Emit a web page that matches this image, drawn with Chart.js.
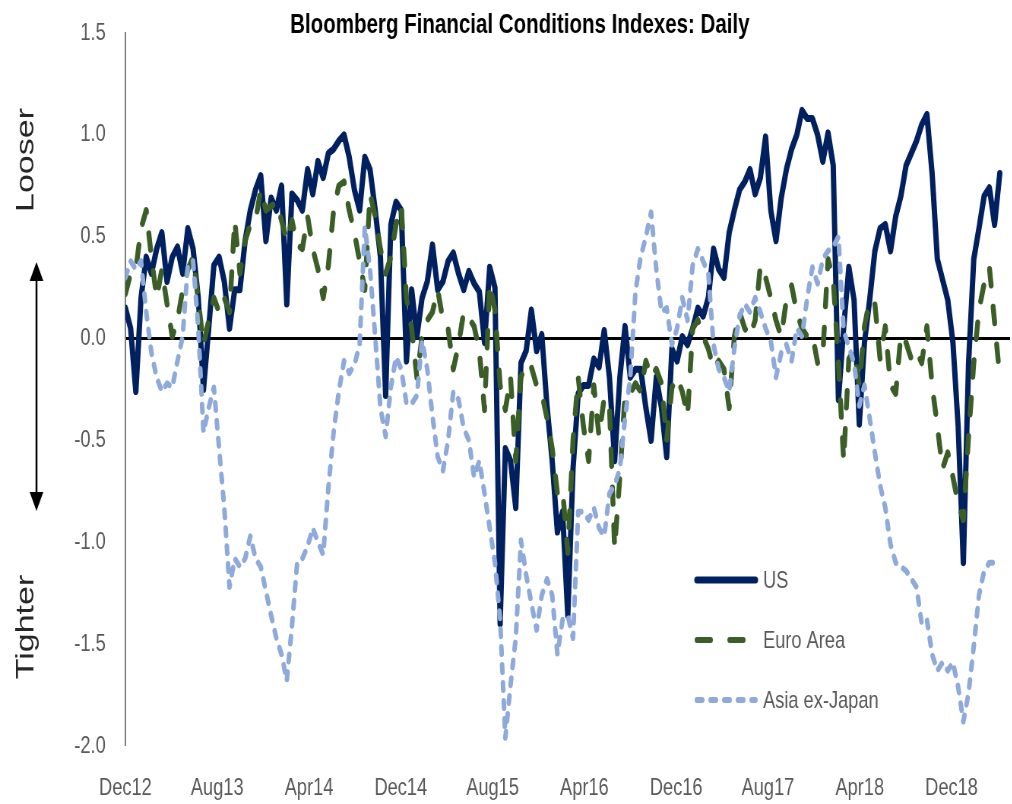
<!DOCTYPE html>
<html>
<head>
<meta charset="utf-8">
<script src="https://cdn.jsdelivr.net/npm/chart.js@4.4.1/dist/chart.umd.min.js"></script>
<style>
  body { margin: 0; overflow: hidden; background: #fff; }
  #frame { width: 1012px; height: 804px; overflow: hidden; position: relative; }
  /* the source picture is squeezed sideways, so draw wide and squeeze */
  #squeeze { width: 1332px; height: 804px; transform: scaleX(0.76); transform-origin: 0 0; }
</style>
</head>
<body>
<div id="frame"><div id="squeeze"><canvas id="c" width="1332" height="804"></canvas></div></div>
<script>
// readings roughly every two weeks, Dec 2012 -> Apr 2019 (x in months since Dec12)
const obsStep = 0.4536

const US = [
  0.15, 0.05, -0.26, 0.2, 0.4, 0.32, 0.44, 0.52, 0.28, 0.4,
  0.45, 0.32, 0.54, 0.44, 0.2, -0.25, 0.05, 0.36, 0.4, 0.28,
  0.05, 0.24, 0.24, 0.48, 0.63, 0.73, 0.8, 0.48, 0.69, 0.63,
  0.75, 0.17, 0.71, 0.68, 0.63, 0.83, 0.71, 0.87, 0.79, 0.91,
  0.93, 0.97, 1.0, 0.89, 0.73, 0.63, 0.89, 0.83, 0.63, 0.4,
  -0.28, 0.56, 0.67, 0.63, -0.11, 0.24, 0.01, 0.2, 0.28, 0.46,
  0.24, 0.28, 0.38, 0.42, 0.32, 0.24, 0.33, 0.27, 0.23, -0.02,
  0.35, 0.25, -1.4, -0.54, -0.6, -0.83, -0.12, -0.06, 0.14, -0.06,
  0.02, -0.33, -0.6, -0.95, -0.85, -1.36, -0.64, -0.27, -0.23, -0.23,
  -0.1, -0.14, 0.04, -0.19, -0.6, -0.19, 0.06, -0.19, -0.15, -0.15,
  -0.34, -0.5, -0.19, -0.34, -0.58, -0.05, -0.11, 0.01, -0.03, 0.05,
  0.15, 0.11, 0.2, 0.44, 0.34, 0.3, 0.52, 0.63, 0.73, 0.77,
  0.83, 0.71, 0.79, 0.99, 0.63, 0.48, 0.69, 0.83, 0.93, 1.0,
  1.12, 1.08, 1.08, 1.0, 0.87, 1.01, 0.85, -0.3, 0.05, 0.35,
  0.19, -0.42, -0.02, 0.19, 0.43, 0.54, 0.56, 0.43, 0.6, 0.7,
  0.85, 0.91, 0.97, 1.05, 1.1, 0.81, 0.39, 0.29, 0.19, -0.02,
  -0.43, -1.1, -0.12, 0.39, 0.54, 0.7, 0.74, 0.56, 0.81
]

const EURO = [
  0.22, 0.32, 0.34, 0.54, 0.63, 0.4, 0.2, 0.34, 0.17, 0.01,
  0.09, 0.24, 0.34, 0.4, 0.19, -0.03, 0.09, 0.2, 0.13, 0.2,
  0.13, 0.58, 0.32, 0.48, 0.56, 0.58, 0.73, 0.63, 0.65, 0.67,
  0.58, 0.48, 0.58, 0.46, 0.44, 0.6, 0.44, 0.34, 0.2, 0.36,
  0.63, 0.75, 0.77, 0.63, 0.52, 0.38, 0.24, 0.71, 0.6, 0.44,
  0.32, 0.4, 0.56, 0.65, 0.2, 0.05, -0.19, 0.01, 0.09, 0.13,
  0.24, 0.09, 0.05, -0.15, -0.03, 0.13, 0.1, 0.06, -0.06, -0.35,
  0.27, 0.14, -0.23, -0.35, -0.19, -0.6, -0.19, -0.12, -0.14, -0.23,
  -0.27, -0.39, -0.54, -0.76, -0.74, -1.05, -0.5, -0.19, -0.43, -0.6,
  -0.23, -0.48, -0.29, -0.33, -1.03, -0.68, -0.27, -0.27, -0.22, -0.26,
  -0.11, -0.19, -0.15, -0.22, -0.5, -0.24, -0.19, -0.26, -0.38, 0.05,
  0.09, 0.01, -0.05, -0.15, -0.11, -0.15, -0.34, 0.01, 0.13, 0.05,
  0.01, 0.09, 0.36, 0.3, 0.2, 0.09, 0.01, 0.19, 0.26, 0.13,
  0.05, 0.01, 0.02, -0.12, -0.08, 0.39, 0.29, -0.12, -0.6, -0.1,
  -0.06, -0.23, 0.06, 0.19, 0.17, -0.1, 0.06, -0.23, -0.27, 0.02,
  -0.02, -0.1, -0.06, -0.12, 0.06, -0.23, -0.43, -0.64, -0.56, -0.68,
  -0.81, -0.89, -0.48, -0.12, 0.14, 0.27, 0.35, 0.08, -0.19
]

const ASIA = [
  0.3, 0.38, 0.34, 0.38, 0.13, -0.07, -0.19, -0.26, -0.22, -0.24,
  -0.11, 0.01, 0.36, 0.38, 0.05, -0.46, -0.34, -0.24, -0.54, -0.83,
  -1.22, -1.08, -1.12, -1.08, -0.97, -1.08, -1.12, -1.24, -1.36, -1.47,
  -1.55, -1.68, -1.41, -1.1, -1.08, -1.02, -0.93, -1.0, -1.06, -0.73,
  -0.46, -0.26, -0.11, -0.17, -0.13, -0.03, 0.55, 0.34, 0.01, -0.34,
  -0.48, -0.24, -0.09, -0.15, -0.32, -0.32, -0.28, -0.01, -0.15, -0.38,
  -0.58, -0.65, -0.5, -0.26, -0.3, -0.44, -0.5, -0.68, -0.6, -0.76,
  -0.93, -1.1, -1.38, -1.96, -1.7, -1.47, -0.99, -1.16, -1.3, -1.43,
  -1.26, -1.18, -1.26, -1.55, -1.38, -1.36, -1.47, -0.85, -0.85, -0.89,
  -0.83, -0.93, -0.97, -0.76, -0.72, -0.64, -0.39, -0.19, 0.23, 0.4,
  0.5, 0.62, 0.34, 0.13, 0.15, -0.03, 0.05, 0.2, 0.09, 0.36,
  0.44, 0.38, 0.32, -0.03, -0.15, -0.19, -0.26, -0.05, 0.11, 0.17,
  0.13, 0.2, 0.13, 0.05, -0.01, -0.19, -0.07, -0.03, -0.11, 0.05,
  0.01, 0.2, 0.35, 0.27, 0.39, 0.43, 0.45, 0.5, 0.04, -0.04,
  -0.12, -0.33, -0.23, -0.39, -0.56, -0.72, -0.83, -1.01, -1.1, -1.12,
  -1.14, -1.18, -1.22, -1.4, -1.38, -1.55, -1.63, -1.59, -1.63, -1.59,
  -1.71, -1.88, -1.74, -1.51, -1.26, -1.14, -1.1, -1.1, -1.1
]

const tickMonths = [0, 8, 16, 24, 32, 40, 48, 56, 64, 72]
const tickLabels = ['Dec12', 'Aug13', 'Apr14', 'Dec14', 'Aug15', 'Apr16', 'Dec16', 'Aug17', 'Apr18', 'Dec18']

const months = US.map((_, i) => +(i * obsStep).toFixed(3))

const navy = '#00205f'
const green = '#3b5e27'
const lightBlue = '#8eaadb'
const grey = '#595959'

Chart.defaults.font.family = "'Liberation Sans', Arial, sans-serif"

// title, side labels, arrow and legend drawn on top
const decor = {
    id: 'decor',
    afterDraw(chart) {
        const ctx = chart.ctx
        ctx.save()
        ctx.fillStyle = '#000'
        ctx.font = "bold 27px 'Liberation Sans', Arial, sans-serif"
        ctx.textAlign = 'center'
        ctx.textBaseline = 'alphabetic'
        ctx.fillText('Bloomberg Financial Conditions Indexes: Daily', 684, 33)

        ctx.fillStyle = '#262626'
        ctx.font = "34px 'Liberation Sans', Arial, sans-serif"
        ;[['Looser', 160], ['Tighter', 627]].forEach(([t, y]) => {
            ctx.save()
            ctx.translate(44, y)
            ctx.rotate(-Math.PI / 2)
            ctx.fillText(t, 0, 0)
            ctx.restore()
        })

        // double arrow
        ctx.strokeStyle = '#000'
        ctx.fillStyle = '#000'
        ctx.lineWidth = 2.5
        ctx.beginPath()
        ctx.moveTo(48, 275)
        ctx.lineTo(48, 498)
        ctx.stroke()
        ctx.beginPath()
        ctx.moveTo(48, 262); ctx.lineTo(57, 281); ctx.lineTo(39, 281); ctx.closePath()
        ctx.fill()
        ctx.beginPath()
        ctx.moveTo(48, 511); ctx.lineTo(57, 492); ctx.lineTo(39, 492); ctx.closePath()
        ctx.fill()

        // legend
        const rows = [
            ['US', navy, 7, [], 580],
            ['Euro Area', green, 6, [18, 25], 640],
            ['Asia ex-Japan', lightBlue, 6, [7, 11], 700]
        ]
        rows.forEach(([name, col, w, dash, y]) => {
            ctx.strokeStyle = col
            ctx.lineWidth = w
            ctx.lineCap = 'round'
            ctx.setLineDash(dash)
            ctx.beginPath()
            ctx.moveTo(917, y)
            ctx.lineTo(994, y)
            ctx.stroke()
            ctx.setLineDash([])
            ctx.fillStyle = grey
            ctx.font = "24px 'Liberation Sans', Arial, sans-serif"
            ctx.textAlign = 'left'
            ctx.textBaseline = 'middle'
            ctx.fillText(name, 1004, y + 1)
        })
        ctx.restore()
    }
}

const lineSet = (label, data, color, width, dash, order) => ({
    label,
    data,
    borderColor: color,
    backgroundColor: color,
    borderWidth: width,
    borderDash: dash,
    borderCapStyle: 'round',
    borderJoinStyle: 'round',
    pointRadius: 0,
    tension: 0,
    fill: false,
    order
})

new Chart(document.getElementById('c'), {
    type: 'line',
    data: {
        labels: months,
        datasets: [
            lineSet('US', US, navy, 7, [], 3),
            lineSet('Euro Area', EURO, green, 6.5, [16, 22], 2),
            lineSet('Asia ex-Japan', ASIA, lightBlue, 6, [7, 11], 1)
        ]
    },
    options: {
        responsive: false,
        devicePixelRatio: 1,
        animation: false,
        layout: { padding: { top: 33, right: 3, bottom: 0, left: 0 } },
        plugins: { legend: { display: false }, tooltip: { enabled: false }, title: { display: false } },
        scales: {
            x: {
                type: 'linear',
                min: 0,
                max: 77.1,
                afterBuildTicks: s => { s.ticks = tickMonths.map(v => ({ value: v })) },
                afterFit: s => { s.height = 58 },
                grid: { display: false, drawTicks: false },
                border: { display: false },
                ticks: {
                    autoSkip: false,
                    maxRotation: 0,
                    padding: 28,
                    color: grey,
                    font: { size: 24 },
                    callback: v => tickLabels[tickMonths.indexOf(v)] ?? ''
                }
            },
            y: {
                min: -2,
                max: 1.5,
                // tick padding would otherwise push the plot top down
                afterFit: s => { s.width = 165; s.paddingTop = 0; s.paddingBottom = 0 },
                border: { display: true, color: '#7f7f7f', width: 2 },
                grid: {
                    drawTicks: false,
                    color: c => c.tick.value === 0 ? '#000' : 'rgba(0,0,0,0)',
                    lineWidth: c => c.tick.value === 0 ? 3 : 0
                },
                ticks: {
                    stepSize: 0.5,
                    padding: 26,
                    color: grey,
                    font: { size: 24 },
                    callback: v => v.toFixed(1)
                }
            }
        }
    },
    plugins: [decor]
})
</script>
</body>
</html>
